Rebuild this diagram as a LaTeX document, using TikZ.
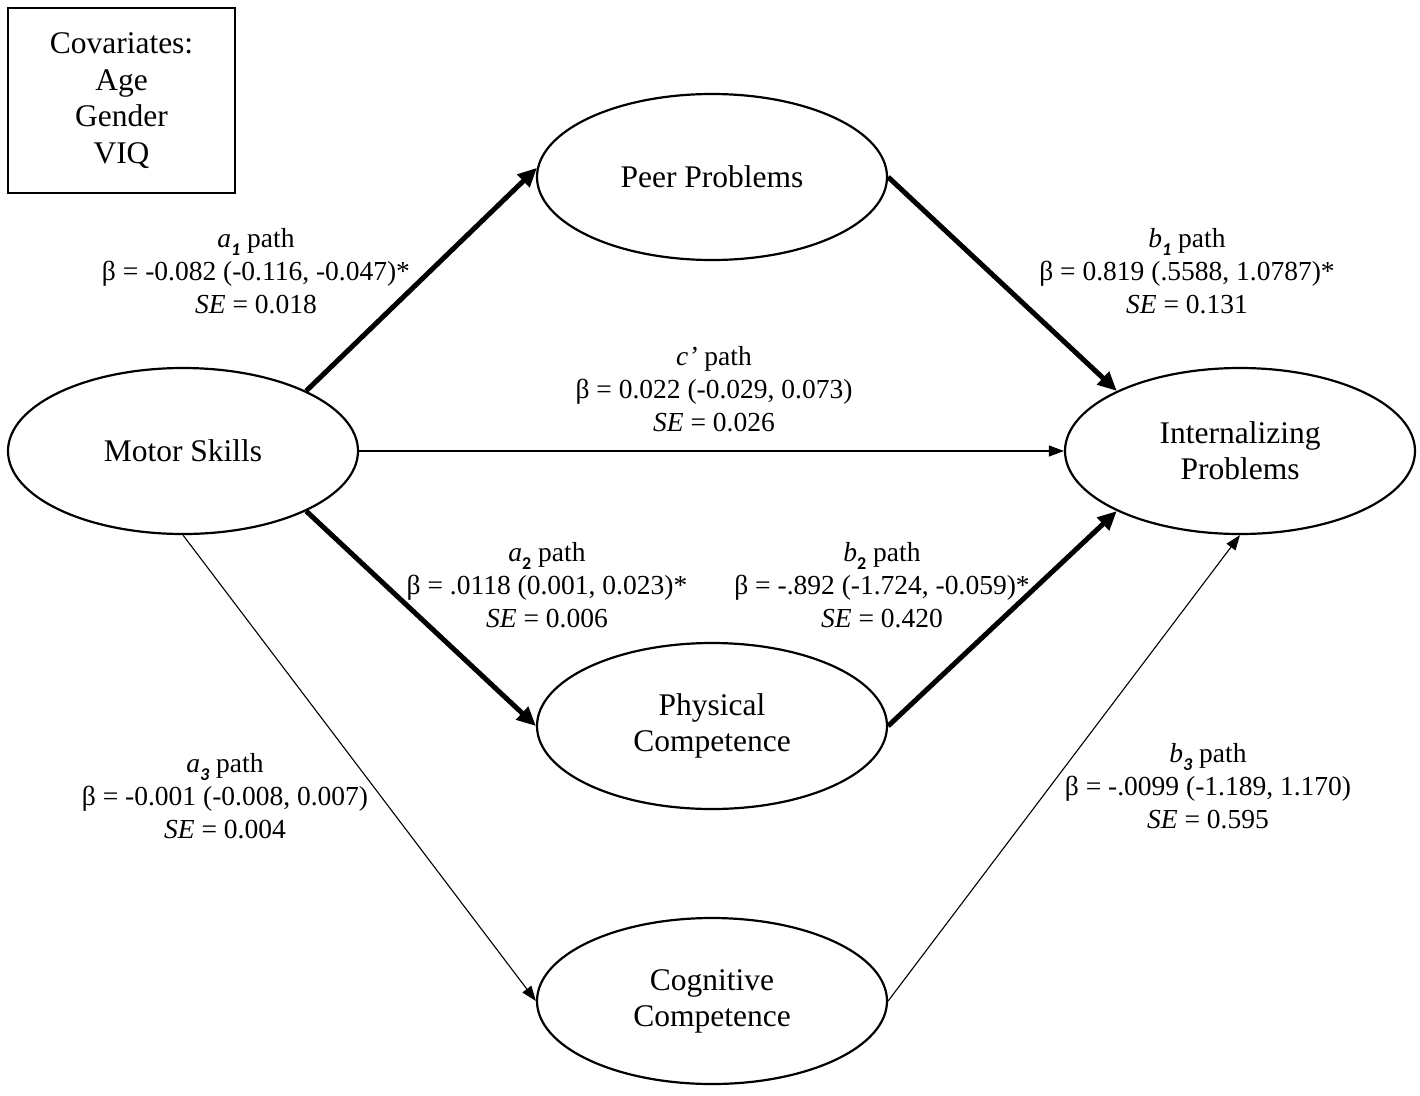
\documentclass[tikz,border=0pt]{standalone}
\usepackage{fontspec}
\setmainfont{Liberation Serif}
\newfontfamily\subfont{Carlito}
\usetikzlibrary{shapes.geometric,arrows.meta}
% bold sans subscript used in the path labels
\newcommand\lsub[1]{\raisebox{-0.3em}{\fontsize{18}{18}\selectfont\subfont\bfseries #1}}
\begin{document}
\begin{tikzpicture}[x=1pt,y=-1pt,
  var/.style={ellipse,draw,line width=2.2pt,minimum width=350pt,minimum height=166pt,
    inner sep=0pt,align=center,font=\fontsize{31.5}{36}\selectfont},
  cov/.style={rectangle,draw,line width=2.2pt,minimum width=227pt,minimum height=185pt,
    inner sep=0pt,align=center,font=\fontsize{31.5}{36.7}\selectfont},
  lbl/.style={align=center,inner sep=0pt,font=\fontsize{27.5}{33}\selectfont},
  strong/.style={line width=5pt,-{Triangle[length=19pt,width=17pt]}},
  weak/.style={line width=1.1pt,-{Triangle[length=15pt,width=11pt]}}]
\useasboundingbox (0,0) rectangle (1420,1095);

% covariates box
\node[cov] (cov) at (121.5,100.5) {Covariates:\\Age\\Gender\\VIQ};

% variables
\node[var] (motor) at (183,451) {Motor Skills};
\node[var] (peer) at (712,177) {Peer Problems};
\node[var] (intern) at (1240,451) {Internalizing\\Problems};
\node[var] (phys) at (712,726) {Physical\\Competence};
\node[var] (cogn) at (712,1001) {Cognitive\\Competence};

% paths
\draw[strong] (motor.26) -- (peer.177);
\draw[strong] (motor.-26) -- (phys.west);
\draw[weak] (motor.south) -- (cogn.west);
\draw[weak] (motor.east) -- (intern.west);
\draw[strong] (peer.east) -- (intern.154);
\draw[strong] (phys.east) -- (intern.206);
\draw[weak] (cogn.east) -- (intern.south);

% path coefficients
\node[lbl] (la1) at (256,271) {\textit{a}\lsub{\itshape 1} path\\β = -0.082 (-0.116, -0.047)*\\\textit{SE} = 0.018};
\node[lbl] (lb1) at (1187,271) {\textit{b}\lsub{\itshape 1} path\\β = 0.819 (.5588, 1.0787)*\\\textit{SE} = 0.131};
\node[lbl] (lc) at (714,389) {\textit{c’} path\\β = 0.022 (-0.029, 0.073)\\\textit{SE} = 0.026};
\node[lbl] (la2) at (547,585) {\textit{a}\lsub{2} path\\β = .0118 (0.001, 0.023)*\\\textit{SE} = 0.006};
\node[lbl] (lb2) at (882,585) {\textit{b}\lsub{2} path\\β = -.892 (-1.724, -0.059)*\\\textit{SE} = 0.420};
\node[lbl] (la3) at (225,796) {\textit{a}\lsub{\itshape 3} path\\β = -0.001 (-0.008, 0.007)\\\textit{SE} = 0.004};
\node[lbl] (lb3) at (1208,786) {\textit{b}\lsub{\itshape 3} path\\β = -.0099 (-1.189, 1.170)\\\textit{SE} = 0.595};
\end{tikzpicture}
\end{document}
